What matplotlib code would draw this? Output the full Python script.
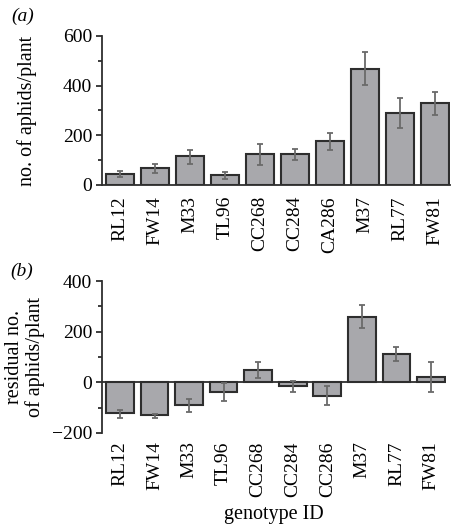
import numpy as np
import matplotlib.pyplot as plt
from matplotlib.ticker import MultipleLocator

# genotipi e dati
genotipi_a = ["RL12", "FW14", "M33", "TL96", "CC268", "CC284", "CA286", "M37", "RL77", "FW81"]
genotipi_b = ["RL12", "FW14", "M33", "TL96", "CC268", "CC284", "CC286", "M37", "RL77", "FW81"]

# (a) numero di afidi per pianta
afidi = [44, 67, 115, 39, 124, 124, 178, 468, 290, 329]
afidi_err_su = [14, 18, 27, 12, 42, 22, 32, 66, 60, 47]
afidi_err_giu = [13, 20, 30, 13, 44, 23, 39, 66, 61, 47]

# (b) residui
residui = [-121, -130, -90, -38, 50, -16, -52, 259, 113, 21]
residui_err_su = [12, 5, 25, 35, 32, 20, 39, 47, 25, 58]
residui_err_giu = [18, 12, 26, 35, 32, 22, 37, 44, 28, 60]

plt.rcParams["font.family"] = ["Liberation Serif", "DejaVu Serif"]
plt.rcParams["font.size"] = 14

colore_barra = "#a8a8ac"
colore_bordo = "#2e2e2e"
colore_err = "#6a6a6a"

fig = plt.figure(figsize=(4.53, 5.32), dpi=100)
ax1 = fig.add_axes([0.2252, 0.6523, 0.768, 0.2801])
ax2 = fig.add_axes([0.2252, 0.1861, 0.759, 0.2857])

x = np.arange(len(afidi))

ax1.bar(x, afidi, width=0.8, color=colore_barra, edgecolor=colore_bordo, linewidth=1.5,
        yerr=[afidi_err_giu, afidi_err_su], ecolor=colore_err,
        error_kw=dict(elinewidth=1.3, capsize=2.5, capthick=1.3))
ax1.set_ylim(0, 600)
ax1.set_xlim(-0.51, 9.43)
ax1.yaxis.set_major_locator(MultipleLocator(200))
ax1.yaxis.set_minor_locator(MultipleLocator(100))
ax1.set_xticks(x)
ax1.set_xticklabels(genotipi_a, rotation=90)
ax1.tick_params(axis="x", length=0, pad=8, labelsize=14)
ax1.tick_params(axis="y", which="major", length=4, width=1.3, color=colore_bordo, labelsize=14, pad=3)
ax1.tick_params(axis="y", which="minor", length=3, width=1.3, color=colore_bordo)
ax1.spines["top"].set_visible(False)
ax1.spines["right"].set_visible(False)
ax1.spines["left"].set_linewidth(1.3)
ax1.spines["bottom"].set_linewidth(1.3)
ax1.spines["left"].set_color(colore_bordo)
ax1.spines["bottom"].set_color(colore_bordo)
ax1.set_ylabel("no. of aphids/plant", fontsize=14.5, labelpad=19)
fig.text(0.025, 0.985, "(a)", fontsize=14, style="italic", va="top")

ax2.bar(x, residui, width=0.8, color=colore_barra, edgecolor=colore_bordo, linewidth=1.5,
        yerr=[residui_err_giu, residui_err_su], ecolor=colore_err,
        error_kw=dict(elinewidth=1.3, capsize=2.5, capthick=1.3))
ax2.axhline(0, color=colore_bordo, linewidth=1.3, zorder=0.5)
ax2.set_ylim(-200, 400)
ax2.set_xlim(-0.52, 9.43)
ax2.yaxis.set_major_locator(MultipleLocator(200))
ax2.yaxis.set_minor_locator(MultipleLocator(100))
ax2.set_xticks(x)
ax2.set_xticklabels(genotipi_b, rotation=90)
ax2.tick_params(axis="x", length=0, pad=6, labelsize=14)
ax2.tick_params(axis="y", which="major", length=4, width=1.3, color=colore_bordo, labelsize=14, pad=3)
ax2.tick_params(axis="y", which="minor", length=3, width=1.3, color=colore_bordo)
ax2.yaxis.set_major_formatter(lambda v, p: f"\u2212{abs(int(v))}" if v < 0 else f"{int(v)}")
for lato in ["top", "right", "bottom"]:
    ax2.spines[lato].set_visible(False)
ax2.spines["left"].set_linewidth(1.3)
ax2.spines["left"].set_color(colore_bordo)
ax2.set_ylabel("residual no.\nof aphids/plant", fontsize=14.5, labelpad=5, linespacing=1.05)
ax2.set_xlabel("genotype ID", fontsize=14.5, labelpad=6)
fig.text(0.022, 0.507, "(b)", fontsize=14, style="italic", va="top")

fig.savefig("out.png", dpi=100)
